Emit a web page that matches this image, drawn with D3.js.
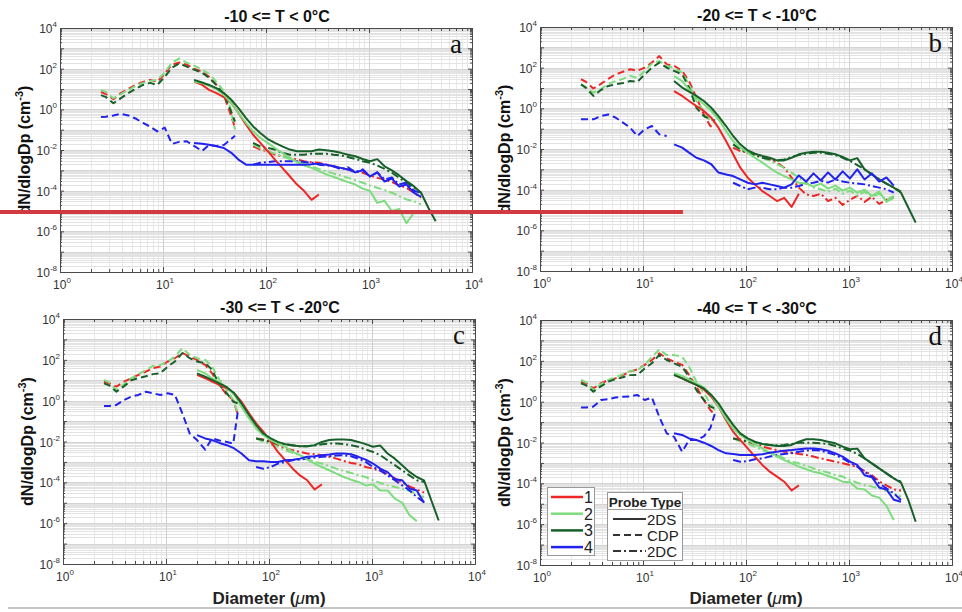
<!DOCTYPE html>
<html><head><meta charset="utf-8">
<script src="https://cdn.jsdelivr.net/npm/d3@7"></script>
<style>body{margin:0;background:#fff} svg{display:block}</style>
</head><body><svg id="c" width="962" height="612"></svg>
<script>
// ---------- data ----------
const panelTitles = ["-10 <= T < 0\u00B0C", "-20 <= T < -10\u00B0C", "-30 <= T < -20\u00B0C", "-40 <= T < -30\u00B0C"];
const panelLetters = ["a", "b", "c", "d"];
const seriesNames = ["1", "2", "3", "4"];
const probeNames = ["2DS", "CDP", "2DC"];
const xTickExps = [0, 1, 2, 3, 4];
const yTickExps = [-8, -6, -4, -2, 0, 2, 4];

// diameters (um) of the size bins
const gridCDP = [2.5,2.8,3.3,3.9,4.6,5.4,6.4,7.5,8.8,10.4,12.2,14.4,17,20,24,28,33,39,45,50];
const grid2DS = [20,24,28,33,39,46,54,64,75,88,104,122,144,170,200,235,277,326,384,452,532,626,737,868,1022,1203,1416,1667,1962,2310,2720,3200,3770,4440];
const grid2DC = [75,88,104,122,144,170,200,235,277,326,384,452,532,626,737,868,1022,1203,1416,1667,1962,2310,2720,3200];

// log10(dN/dlogDp) per series 1..4
const a_CDP = [
[0.85,0.75,0.5,0.8,1.0,1.2,1.35,1.45,1.35,1.75,2.2,2.3,2.2,2.0,1.85,1.6,1.2,0.7,-0.2,-0.9],
[0.96,0.85,0.55,0.75,0.95,1.15,1.3,1.4,1.45,1.8,2.3,2.5,2.3,2.15,1.95,1.75,1.35,0.9,0.1,-1.0],
[0.7,0.6,0.3,0.55,0.8,1.0,1.2,1.3,1.2,1.6,2.05,2.25,2.1,1.95,1.8,1.55,1.2,0.7,0.0,-0.6],
[-0.38,-0.36,-0.3,-0.22,-0.3,-0.45,-0.67,-0.85,-1.08,-0.9,-1.7,-1.6,-1.57,-1.8,-2.05,-1.75,-1.8,-1.75,-1.5,-1.3]];
const a_2DS = [
[1.37,1.2,0.96,0.8,0.6,0.31,-0.18,-0.75,-1.25,-1.65,-2.06,-2.47,-2.88,-3.29,-3.7,-4.02,-4.45,-4.19],
[1.37,1.29,1.16,1.0,0.72,0.31,-0.18,-0.67,-1.08,-1.41,-1.65,-1.9,-2.14,-2.39,-2.6,-2.76,-2.88,-3.04,-3.2,-3.32,-3.45,-3.58,-3.7,-3.9,-4.0,-4.6,-4.5,-5.0,-4.9,-5.6,-5.1],
[1.45,1.32,1.2,1.04,0.8,0.47,0.06,-0.43,-0.84,-1.16,-1.46,-1.65,-1.82,-1.98,-2.06,-2.06,-2.06,-1.98,-2.01,-2.06,-2.14,-2.23,-2.31,-2.44,-2.55,-2.45,-2.8,-3.0,-3.25,-3.53,-3.78,-4.1,-4.84,-5.5],
[-1.65,-1.69,-1.74,-1.82,-1.9,-2.14,-2.47,-2.72,-2.72,-2.72,-2.72,-2.72,-2.72,-2.72,-2.72,-2.72,-2.7,-2.67,-2.72,-2.8,-2.88,-2.96,-3.1,-3.0,-3.3,-3.1,-3.55,-3.4,-3.8,-3.7,-4.1,-4.3]];
const a_2DC = [
[-1.82,-1.98,-2.06,-2.23,-2.31,-2.39,-2.47,-2.55,-2.6,-2.63,-2.71,-2.8,-2.88,-2.96,-3.04,-3.12,-3.25,-3.37,-3.45,-3.58,-3.74,-3.86,-4.1,-4.35],
[-1.74,-1.9,-2.06,-2.18,-2.31,-2.44,-2.55,-2.67,-2.8,-2.93,-3.04,-3.16,-3.25,-3.37,-3.48,-3.61,-3.74,-3.86,-3.97,-4.1,-4.27,-4.43,-4.51,-4.68],
[-1.65,-1.82,-1.9,-1.98,-2.14,-2.23,-2.23,-2.23,-2.18,-2.18,-2.18,-2.23,-2.27,-2.34,-2.44,-2.55,-2.63,-2.76,-2.93,-3.12,-3.37,-3.61,-3.86,-4.1],
[-2.72,-2.63,-2.6,-2.55,-2.55,-2.55,-2.55,-2.59,-2.63,-2.72,-2.76,-2.8,-2.95,-2.85,-3.1,-2.95,-3.3,-3.1,-3.45,-3.35,-3.7,-3.6,-4.0,-4.1]];

const b_CDP = [
[1.43,1.3,0.98,1.2,1.45,1.67,1.8,1.92,1.85,2.0,2.25,2.57,2.16,2.1,1.84,1.34,0.52,-0.3,-0.87,-0.95],
[1.18,1.05,0.77,0.95,1.2,1.34,1.45,1.59,1.5,1.84,2.2,2.33,2.08,2.0,1.75,1.18,0.36,-0.13,-0.62,-0.7],
[1.18,1.0,0.61,0.9,1.1,1.18,1.25,1.34,1.3,1.67,2.0,2.25,2.0,1.84,1.67,1.02,0.03,-0.38,-0.54,-0.6],
[-0.54,-0.54,-0.54,-0.38,-0.3,-0.45,-0.7,-0.95,-1.36,-1.03,-0.87,-1.28,-1.36]];
const b_2DS = [
[0.85,0.61,0.36,0.11,-0.13,-0.46,-0.95,-1.61,-2.26,-2.92,-3.41,-3.74,-4.07,-4.31,-4.56,-4.4,-4.85,-4.2],
[1.59,1.34,0.93,0.52,0.2,-0.13,-0.54,-1.11,-1.61,-1.93,-2.18,-2.43,-2.67,-2.92,-3.16,-3.33,-3.49,-3.66,-3.7,-3.85,-3.7,-3.95,-3.8,-4.05,-3.9,-4.15,-4.0,-4.3,-4.1,-4.6,-4.4],
[1.34,1.02,0.82,0.61,0.36,0.03,-0.38,-0.87,-1.36,-1.77,-2.07,-2.23,-2.34,-2.43,-2.56,-2.56,-2.43,-2.26,-2.18,-2.13,-2.13,-2.18,-2.26,-2.39,-2.56,-2.45,-3.0,-3.25,-3.49,-3.7,-3.9,-4.15,-4.89,-5.62],
[-1.77,-1.93,-2.18,-2.43,-2.56,-2.75,-3.16,-3.25,-3.33,-3.49,-3.66,-3.74,-3.66,-3.74,-3.82,-3.9,-3.74,-3.3,-3.6,-3.2,-3.55,-3.15,-3.5,-3.1,-3.45,-3.0,-3.5,-3.2,-3.6,-3.4,-3.8]];
const b_2DC = [
[-1.93,-2.1,-2.18,-2.26,-2.34,-2.51,-2.67,-2.92,-3.41,-3.9,-4.23,-4.31,-4.2,-4.56,-4.4,-4.75,-4.5,-4.3,-4.6,-4.35,-4.7,-4.5,-4.4],
[-1.77,-1.93,-2.1,-2.26,-2.43,-2.59,-2.75,-2.92,-3.16,-3.41,-3.66,-3.9,-3.98,-4.1,-3.95,-4.2,-4.05,-4.3,-4.1,-4.35,-4.2,-4.5,-4.3],
[-1.77,-2.02,-2.18,-2.3,-2.43,-2.51,-2.56,-2.51,-2.39,-2.3,-2.23,-2.18,-2.18,-2.23,-2.3,-2.43,-2.59,-2.79,-3.0,-3.25,-3.49,-3.7,-3.9,-4.1],
[-3.66,-3.82,-3.98,-3.9,-3.9,-3.98,-3.98,-3.9,-3.9,-3.82,-3.7,-3.66,-3.57,-3.65,-3.5,-3.6,-3.66,-3.7,-3.74,-3.82,-3.9,-3.98,-4.15]];

const c_CDP = [
[0.93,0.85,0.69,0.93,1.1,1.26,1.43,1.59,1.67,1.92,2.08,2.33,2.16,2.0,1.75,1.34,0.77,0.28,0.03,-0.7],
[1.02,0.9,0.52,0.8,1.1,1.3,1.5,1.7,1.75,1.92,2.16,2.57,2.25,2.08,2.0,1.67,1.02,0.52,0.03,-0.62],
[0.85,0.75,0.44,0.7,1.0,1.1,1.2,1.3,1.34,1.67,1.92,2.33,2.08,1.92,1.84,1.51,0.77,0.36,-0.05,-0.13],
[-0.26,-0.26,-0.21,0.03,0.2,0.28,0.44,0.36,0.28,0.36,0.28,-0.62,-1.61,-1.93,-2.4,-1.85,-1.95,-2.02,-2.1,-0.46]];
const c_2DS = [
[1.26,1.1,0.93,0.77,0.61,0.36,-0.05,-0.62,-1.11,-1.52,-2.02,-2.51,-2.92,-3.33,-3.66,-3.9,-4.35,-4.1],
[1.51,1.34,1.1,0.89,0.66,0.28,-0.3,-0.87,-1.36,-1.69,-1.93,-2.1,-2.26,-2.51,-2.67,-2.89,-3.08,-3.25,-3.41,-3.57,-3.74,-3.87,-3.98,-4.15,-4.1,-4.4,-4.4,-4.8,-5.0,-5.6,-5.9],
[1.34,1.18,1.02,0.85,0.66,0.36,-0.13,-0.7,-1.2,-1.61,-1.85,-2.02,-2.13,-2.2,-2.23,-2.23,-2.18,-2.02,-1.93,-1.9,-1.9,-1.93,-2.02,-2.13,-2.26,-2.2,-2.59,-2.84,-3.16,-3.49,-3.74,-3.9,-4.89,-5.87],
[-1.69,-1.85,-1.93,-2.07,-2.18,-2.34,-2.59,-2.92,-2.97,-2.97,-3.0,-3.0,-2.92,-2.89,-2.84,-2.75,-2.72,-2.67,-2.64,-2.59,-2.59,-2.62,-2.75,-2.89,-3.08,-3.33,-3.5,-3.85,-3.9,-4.3,-4.4,-5.0]];
const c_2DC = [
[-1.85,-1.9,-2.02,-2.18,-2.34,-2.43,-2.51,-2.59,-2.62,-2.67,-2.75,-2.84,-2.95,-3.05,-3.11,-3.25,-3.33,-3.44,-3.6,-3.8,-4.0,-4.2,-4.35,-4.5],
[-1.85,-2.02,-2.13,-2.26,-2.43,-2.56,-2.67,-2.84,-3.0,-3.08,-3.21,-3.33,-3.44,-3.54,-3.66,-3.74,-3.9,-4.03,-4.15,-4.23,-4.31,-4.43,-4.56,-4.72],
[-1.85,-1.93,-2.02,-2.1,-2.13,-2.18,-2.23,-2.23,-2.2,-2.13,-2.1,-2.1,-2.13,-2.18,-2.26,-2.39,-2.51,-2.67,-2.92,-3.16,-3.41,-3.66,-3.9,-3.98],
[-3.25,-3.33,-3.25,-3.08,-3.0,-2.92,-2.89,-2.84,-2.79,-2.75,-2.72,-2.69,-2.67,-2.72,-2.84,-3.0,-3.25,-3.41,-3.66,-3.9,-4.15,-4.39,-4.72,-4.97]];

const d_CDP = [
[0.98,0.9,0.65,0.9,1.06,1.14,1.31,1.47,1.58,1.8,2.04,2.37,2.12,1.96,1.8,1.31,0.73,0.08,-0.41,-0.65],
[1.06,0.95,0.57,0.85,1.06,1.2,1.35,1.5,1.55,1.8,2.2,2.56,2.28,2.28,2.2,1.71,0.98,0.41,-0.08,-0.41],
[0.9,0.8,0.49,0.75,0.98,1.1,1.2,1.3,1.31,1.63,1.88,2.29,2.04,1.88,1.71,1.22,0.57,0.08,-0.24,-0.33],
[-0.28,-0.28,-0.24,0.08,0.12,0.2,0.24,0.26,0.33,0.08,0.2,-0.75,-1.55,-1.72,-2.45,-1.88,-1.88,-1.7,-1.3,-0.57]];
const d_2DS = [
[1.31,1.14,0.98,0.82,0.6,0.24,-0.24,-0.9,-1.47,-1.88,-2.29,-2.69,-3.1,-3.43,-3.67,-3.92,-4.35,-4.1],
[1.39,1.26,1.09,0.9,0.7,0.33,-0.24,-0.82,-1.31,-1.63,-1.88,-2.07,-2.29,-2.5,-2.69,-2.86,-3.02,-3.18,-3.31,-3.43,-3.51,-3.64,-3.76,-3.92,-3.95,-4.25,-4.3,-4.6,-4.7,-5.1,-5.8],
[1.31,1.14,0.98,0.82,0.65,0.33,-0.08,-0.65,-1.14,-1.55,-1.8,-1.96,-2.07,-2.12,-2.17,-2.17,-2.12,-1.96,-1.84,-1.84,-1.88,-1.96,-2.04,-2.2,-2.33,-2.3,-2.78,-3.02,-3.27,-3.51,-3.76,-3.97,-4.82,-5.88],
[-1.55,-1.63,-1.8,-1.88,-2.01,-2.17,-2.37,-2.53,-2.56,-2.61,-2.61,-2.61,-2.58,-2.5,-2.45,-2.4,-2.37,-2.33,-2.29,-2.29,-2.33,-2.4,-2.53,-2.69,-2.94,-3.1,-3.6,-3.7,-4.2,-4.3,-4.8,-4.9]];
const d_2DC = [
[-1.8,-1.84,-1.96,-2.07,-2.2,-2.29,-2.37,-2.45,-2.5,-2.56,-2.61,-2.69,-2.78,-2.86,-2.94,-3.02,-3.1,-3.2,-3.4,-3.6,-3.9,-4.1,-4.3,-4.35],
[-1.8,-1.96,-2.07,-2.2,-2.37,-2.5,-2.61,-2.78,-2.94,-3.02,-3.14,-3.27,-3.38,-3.47,-3.59,-3.67,-3.84,-3.97,-4.08,-4.16,-4.25,-4.37,-4.49,-4.65],
[-1.8,-1.88,-1.96,-2.01,-2.07,-2.12,-2.14,-2.12,-2.07,-2.01,-2.01,-2.01,-2.04,-2.07,-2.17,-2.29,-2.4,-2.56,-2.78,-3.02,-3.27,-3.51,-3.76,-3.92],
[-2.86,-2.94,-2.91,-2.82,-2.78,-2.69,-2.61,-2.56,-2.53,-2.45,-2.4,-2.37,-2.4,-2.5,-2.61,-2.78,-2.99,-3.18,-3.43,-3.67,-4.0,-4.24,-4.49,-4.82]];

// ---------- styles / layout ----------
const seriesColors = ["#ee2626", "#7ddc7d", "#17602a", "#2222ee"];
const probeDash = {"2DS": null, "CDP": "7,4", "2DC": "8,3,2,3"};
const FONT = "'Liberation Sans', Arial, Helvetica, sans-serif";
const boxes = [
  {x0: 60, x1: 472, y0: 28, y1: 272},
  {x0: 540, x1: 952, y0: 27, y1: 271},
  {x0: 63, x1: 475, y0: 319, y1: 564},
  {x0: 540, x1: 952, y0: 320, y1: 565}
];
const panels = [
  {CDP: a_CDP, "2DS": a_2DS, "2DC": a_2DC},
  {CDP: b_CDP, "2DS": b_2DS, "2DC": b_2DC},
  {CDP: c_CDP, "2DS": c_2DS, "2DC": c_2DC},
  {CDP: d_CDP, "2DS": d_2DS, "2DC": d_2DC}
];
const grids = {CDP: gridCDP, "2DS": grid2DS, "2DC": grid2DC};

const svg = d3.select("#c");
svg.append("rect").attr("width", 962).attr("height", 612).attr("fill", "#fff");

function supLabel(sel, exp) {
  sel.text(null);
  sel.append("tspan").text("10");
  sel.append("tspan").attr("dy", -6).attr("font-size", 8).text(exp);
}

boxes.forEach((b, pi) => {
  const x = d3.scaleLog().domain([1, 1e4]).range([b.x0, b.x1]);
  const y = d3.scaleLog().domain([1e-8, 1e4]).range([b.y1, b.y0]);
  const g = svg.append("g");
  const W = b.x1 - b.x0, H = b.y1 - b.y0;

  const xMajor = [], xMinor = [], yMajor = [], yMinor = [];
  for (let k = 0; k < 4; k++) { xMajor.push(Math.pow(10, k)); for (let m = 2; m < 10; m++) xMinor.push(m * Math.pow(10, k)); }
  xMajor.push(1e4);
  for (let k = -8; k < 4; k++) { yMajor.push(Math.pow(10, k)); for (let m = 2; m < 10; m++) yMinor.push(m * Math.pow(10, k)); }
  yMajor.push(1e4);

  // grid
  g.append("g").selectAll("line").data(xMinor).join("line")
    .attr("x1", d => Math.round(x(d)) + 0.5).attr("x2", d => Math.round(x(d)) + 0.5)
    .attr("y1", b.y0).attr("y2", b.y1).attr("stroke", "#e8e8e8").attr("stroke-width", 1);
  g.append("g").selectAll("line").data(yMinor).join("line")
    .attr("y1", d => Math.round(y(d)) + 0.5).attr("y2", d => Math.round(y(d)) + 0.5)
    .attr("x1", b.x0).attr("x2", b.x1).attr("stroke", "#e3e3e3").attr("stroke-width", 1);
  g.append("g").selectAll("line").data(xMajor).join("line")
    .attr("x1", d => Math.round(x(d)) + 0.5).attr("x2", d => Math.round(x(d)) + 0.5)
    .attr("y1", b.y0).attr("y2", b.y1).attr("stroke", "#d0d0d0").attr("stroke-width", 1);
  g.append("g").selectAll("line").data(yMajor).join("line")
    .attr("y1", d => Math.round(y(d)) + 0.5).attr("y2", d => Math.round(y(d)) + 0.5)
    .attr("x1", b.x0).attr("x2", b.x1).attr("stroke", "#d4d4d4").attr("stroke-width", 1);

  // data lines
  const clipId = "clip" + pi;
  svg.append("clipPath").attr("id", clipId).append("rect")
    .attr("x", b.x0).attr("y", b.y0).attr("width", W).attr("height", H);
  const lg = g.append("g").attr("clip-path", `url(#${clipId})`);
  const line = d3.line().x(d => x(d.d)).y(d => y(d.n));
  const P = panels[pi];
  ["CDP", "2DC", "2DS"].forEach(probe => {
    P[probe].forEach((vals, si) => {
      const pts = vals.map((v, i) => ({d: grids[probe][i], n: Math.pow(10, v)}));
      lg.append("path").datum(pts).attr("d", line)
        .attr("fill", "none").attr("stroke", seriesColors[si]).attr("stroke-width", 2)
        .attr("stroke-linejoin", "round")
        .attr("stroke-dasharray", probeDash[probe]);
    });
  });

  // axes (ticks inward, box)
  const axCol = "#4a4a4a";
  const styleAxis = s => { s.selectAll("path").attr("stroke", axCol); s.selectAll("line").attr("stroke", axCol); s.selectAll("text").remove(); };
  g.append("g").attr("transform", `translate(0,${b.y1})`).call(d3.axisBottom(x).tickValues(xMajor).tickSizeInner(-5).tickSizeOuter(0)).call(styleAxis);
  g.append("g").attr("transform", `translate(0,${b.y1})`).call(d3.axisBottom(x).tickValues(xMinor).tickSizeInner(-3).tickSizeOuter(0)).call(styleAxis);
  g.append("g").attr("transform", `translate(0,${b.y0})`).call(d3.axisTop(x).tickValues(xMajor).tickSizeInner(-5).tickSizeOuter(0)).call(styleAxis);
  g.append("g").attr("transform", `translate(0,${b.y0})`).call(d3.axisTop(x).tickValues(xMinor).tickSizeInner(-3).tickSizeOuter(0)).call(styleAxis);
  g.append("g").attr("transform", `translate(${b.x0},0)`).call(d3.axisLeft(y).tickValues(yMajor).tickSizeInner(-4).tickSizeOuter(0)).call(styleAxis);
  g.append("g").attr("transform", `translate(${b.x0},0)`).call(d3.axisLeft(y).tickValues(yMinor).tickSizeInner(-2).tickSizeOuter(0)).call(styleAxis);
  g.append("g").attr("transform", `translate(${b.x1},0)`).call(d3.axisRight(y).tickValues(yMajor).tickSizeInner(-4).tickSizeOuter(0)).call(styleAxis);
  g.append("g").attr("transform", `translate(${b.x1},0)`).call(d3.axisRight(y).tickValues(yMinor).tickSizeInner(-2).tickSizeOuter(0)).call(styleAxis);

  // tick labels
  g.append("g").selectAll("text").data(xTickExps).join("text")
    .attr("x", e => x(Math.pow(10, e)) + 2).attr("y", b.y1 + 17)
    .attr("text-anchor", "middle").attr("font-family", FONT).attr("font-size", 12).attr("fill", "#333")
    .each(function(e) { supLabel(d3.select(this), e); });
  g.append("g").selectAll("text").data(yTickExps).join("text")
    .attr("x", b.x0 - 3).attr("y", e => y(Math.pow(10, e)) + 5)
    .attr("text-anchor", "end").attr("font-family", FONT).attr("font-size", 12).attr("fill", "#333")
    .each(function(e) { supLabel(d3.select(this), e); });

  // title
  g.append("text").attr("x", (b.x0 + b.x1) / 2 + 11).attr("y", b.y0 - 6)
    .attr("text-anchor", "middle").attr("font-family", FONT).attr("font-weight", "bold")
    .attr("font-size", 16).attr("fill", "#111").text(panelTitles[pi]);
  // panel letter
  g.append("text").attr("x", b.x1 - 10).attr("y", b.y0 + 25)
    .attr("text-anchor", "end").attr("font-family", "'Liberation Serif', 'Times New Roman', serif")
    .attr("font-size", 27).attr("fill", "#111").text(panelLetters[pi]);
  // y label
  const yl = g.append("text").attr("transform", `translate(${b.x0 - 30},${(b.y0 + b.y1) / 2}) rotate(-90)`)
    .attr("text-anchor", "middle").attr("font-family", FONT).attr("font-weight", "bold")
    .attr("font-size", 16).attr("fill", "#111");
  yl.append("tspan").text("dN/dlogDp (cm");
  yl.append("tspan").attr("dy", -7).attr("font-size", 11).text("-3");
  yl.append("tspan").attr("dy", 7).text(")");
  // x label (bottom row)
  if (pi >= 2) {
    const xl = g.append("text").attr("x", (b.x0 + b.x1) / 2).attr("y", 604)
      .attr("text-anchor", "middle").attr("font-family", FONT).attr("font-weight", "bold")
      .attr("font-size", 17).attr("fill", "#222");
    xl.append("tspan").text("Diameter (");
    xl.append("tspan").attr("font-style", "italic").attr("font-weight", "normal").text("\u03BC");
    xl.append("tspan").text("m)");
  }

  // legends in panel d
  if (pi === 3) {
    const L = g.append("g");
    L.append("rect").attr("x", 547.5).attr("y", 487.5).attr("width", 47).attr("height", 68)
      .attr("fill", "#fff").attr("stroke", "#999");
    seriesNames.forEach((s, i) => {
      const yy = 497 + i * 16.7;
      L.append("line").attr("x1", 551).attr("x2", 583).attr("y1", yy).attr("y2", yy)
        .attr("stroke", seriesColors[i]).attr("stroke-width", 2.5);
      L.append("text").attr("x", 584).attr("y", yy + 6).attr("font-family", FONT)
        .attr("font-size", 16).attr("fill", "#222").text(s);
    });
    L.append("rect").attr("x", 607.5).attr("y", 492.5).attr("width", 75).attr("height", 68)
      .attr("fill", "#fff").attr("stroke", "#999");
    L.append("text").attr("x", 645).attr("y", 507).attr("text-anchor", "middle")
      .attr("font-family", FONT).attr("font-weight", "bold").attr("font-size", 13.5).attr("fill", "#222").text("Probe Type");
    L.append("line").attr("x1", 607.5).attr("x2", 682.5).attr("y1", 509.5).attr("y2", 509.5).attr("stroke", "#999");
    probeNames.forEach((p, i) => {
      const yy = 519 + i * 16;
      L.append("line").attr("x1", 613).attr("x2", 646).attr("y1", yy).attr("y2", yy)
        .attr("stroke", "#333").attr("stroke-width", 2).attr("stroke-dasharray", probeDash[p]);
      L.append("text").attr("x", 647).attr("y", yy + 5.5).attr("font-family", FONT)
        .attr("font-size", 15).attr("fill", "#222").text(p);
    });
  }
});

// bottom rule and red annotation line
svg.append("line").attr("x1", 8).attr("x2", 962).attr("y1", 608).attr("y2", 608)
  .attr("stroke", "#b0b0b0").attr("stroke-width", 1.5);
svg.append("line").attr("x1", 0).attr("x2", 683).attr("y1", 212).attr("y2", 212)
  .attr("stroke", "#d13a40").attr("stroke-width", 4);
</script>
</body></html>
